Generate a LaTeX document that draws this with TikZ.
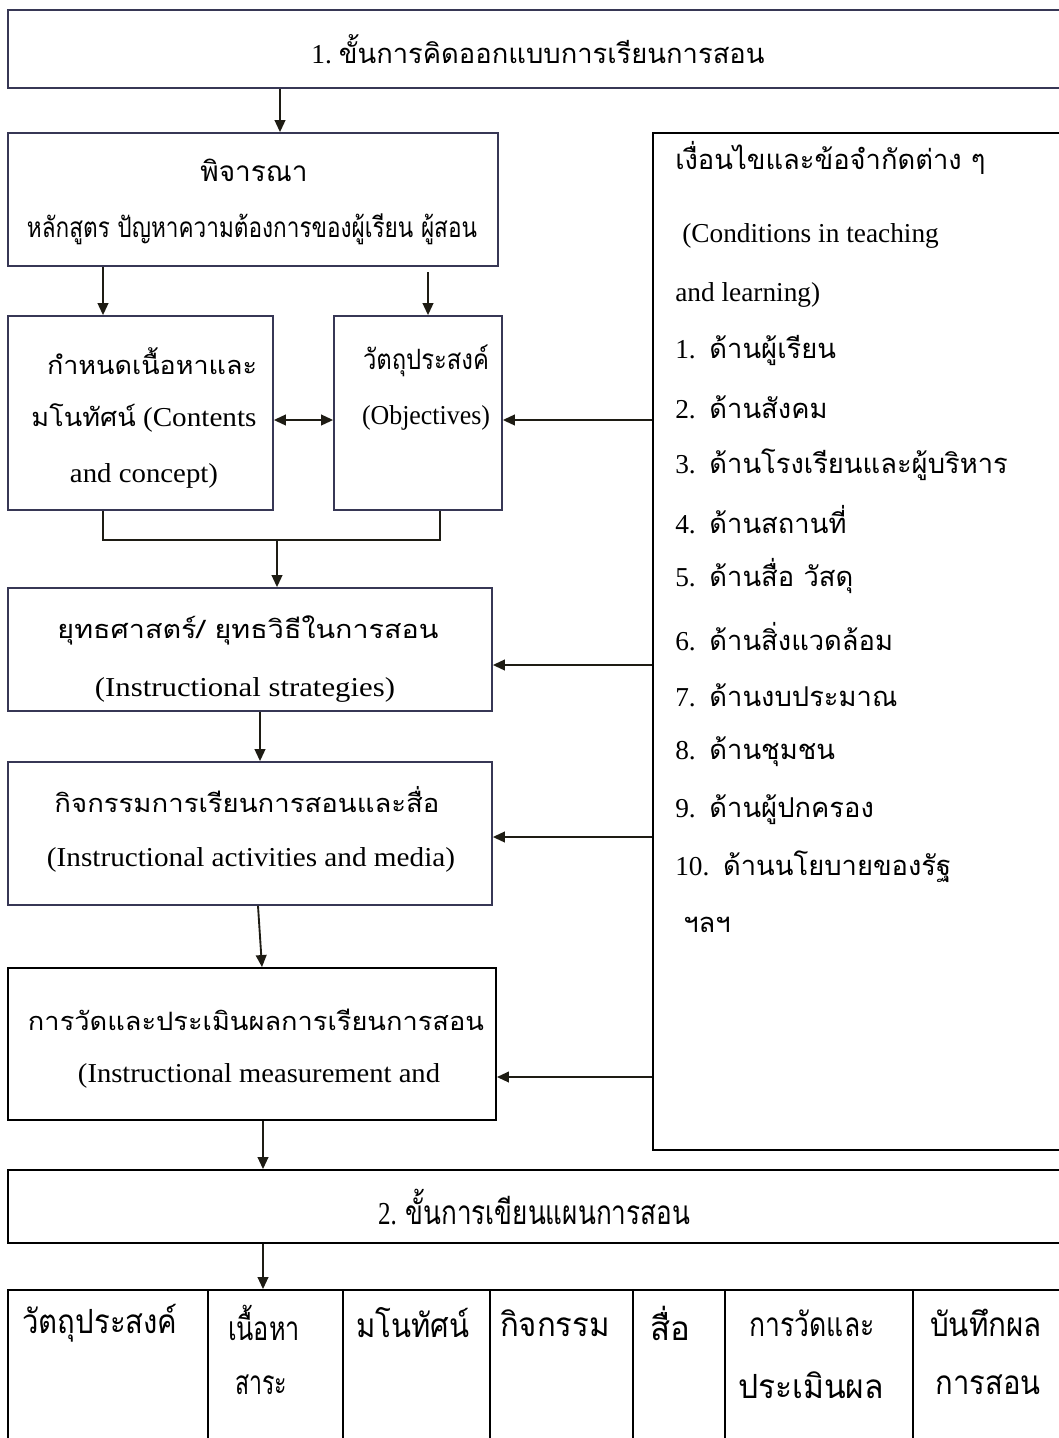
\documentclass[tikz,border=0pt]{standalone}
\usepackage{fontspec}
\usepackage{graphicx}
\setmainfont{Liberation Serif}
\newfontfamily\thf[Script=Thai]{Loma}
\usetikzlibrary{arrows.meta}
\definecolor{boxcol}{RGB}{55,55,85}
\definecolor{arrcol}{RGB}{30,28,20}
\newdimen\pxu \pxu=0.75pt
\newcommand{\fw}[2]{\resizebox{#1\pxu}{\height}{#2}}
\newcommand{\tb}{\fontsize{19pt}{23pt}\selectfont\thf}
\newcommand{\tbb}{\fontsize{21pt}{25pt}\selectfont\thf}
\begin{document}
\begin{tikzpicture}[x=0.75pt,y=-0.75pt,
  box/.style={draw=boxcol,line width=1.3pt,rectangle,inner sep=0pt},
  bbox/.style={draw=black,line width=1.4pt,rectangle,inner sep=0pt},
  arr/.style={draw=arrcol,line width=1.4pt,-{Triangle[length=9pt,width=8pt]}},
  ln/.style={draw=arrcol,line width=1.4pt},
  txt/.style={inner sep=0pt,font=\fontsize{20.5pt}{24pt}\selectfont},
  ctxt/.style={inner sep=0pt,anchor=west,font=\fontsize{20.5pt}{24pt}\selectfont},
  tc/.style={inner sep=0pt,font=\fontsize{25pt}{30pt}\selectfont\thf}]
\useasboundingbox (0,0) rectangle (1059,1438);
% boxes
\node[box,minimum width=1067*0.75pt,minimum height=78*0.75pt] (top) at (541.5,49) {};
\node[box,minimum width=490*0.75pt,minimum height=133*0.75pt] (p) at (253,199.5) {};
\node[box,minimum width=265*0.75pt,minimum height=194*0.75pt] (c) at (140.5,413) {};
\node[box,minimum width=168*0.75pt,minimum height=194*0.75pt] (o) at (418,413) {};
\node[box,minimum width=484*0.75pt,minimum height=123*0.75pt] (s) at (250,649.5) {};
\node[box,minimum width=484*0.75pt,minimum height=143*0.75pt] (a) at (250,833.5) {};
\node[bbox,minimum width=488*0.75pt,minimum height=152*0.75pt] (m) at (252,1044) {};
\node[bbox,minimum width=1067*0.75pt,minimum height=73*0.75pt] (b2) at (541.5,1206.5) {};
\node[bbox,minimum width=422*0.75pt,minimum height=1017*0.75pt] (cond) at (864,641.5) {};
% table cells
\node[bbox,minimum width=200*0.75pt,minimum height=170*0.75pt] (t1) at (108,1375) {};
\node[bbox,minimum width=135*0.75pt,minimum height=170*0.75pt] (t2) at (275.5,1375) {};
\node[bbox,minimum width=147*0.75pt,minimum height=170*0.75pt] (t3) at (416.5,1375) {};
\node[bbox,minimum width=143*0.75pt,minimum height=170*0.75pt] (t4) at (561.5,1375) {};
\node[bbox,minimum width=92*0.75pt,minimum height=170*0.75pt] (t5) at (679,1375) {};
\node[bbox,minimum width=188*0.75pt,minimum height=170*0.75pt] (t6) at (819,1375) {};
\node[bbox,minimum width=162*0.75pt,minimum height=170*0.75pt] (t7) at (994,1375) {};
% texts
\node[txt] (tt) at (538,49) {\fw{453}{1.\ {\thf ขั้นการคิดออกแบบการเรียนการสอน}}};
\node[txt] (p1) at (254,170) {\tbb พิจารณา};
\node[txt] (p2) at (252,229) {\fw{450}{\tbb หลักสูตร ปัญหาความต้องการของผู้เรียน ผู้สอน}};
\node[txt] (c1) at (152,361) {\fw{210}{\tb กำหนดเนื้อหาและ}};
\node[txt] (c2) at (144,418) {\fw{225}{{\tb มโนทัศน์} (Contents}};
\node[txt] (c3) at (144,476) {\fw{148}{and concept)}};
\node[txt] (o1) at (426,361) {\fw{126}{\tbb วัตถุประสงค์}};
\node[txt] (o2) at (426,418) {\fw{128}{(Objectives)}};
\node[txt] (s1) at (248,630) {\fw{381}{\tb ยุทธศาสตร์/ ยุทธวิธีในการสอน}};
\node[txt] (s2) at (245,690) {\fw{300}{(Instructional strategies)}};
\node[txt] (a1) at (247,800) {\fw{385}{\tb กิจกรรมการเรียนการสอนและสื่อ}};
\node[txt] (a2) at (251,860) {\fw{408}{(Instructional activities and media)}};
\node[txt] (m1) at (256,1020) {\fw{456}{\tb การวัดและประเมินผลการเรียนการสอน}};
\node[txt] (m2) at (259,1076) {\fw{362}{(Instructional measurement and}};
\node[tc] (bt) at (534,1207) {\fw{312}{{\rmfamily\fontsize{24pt}{28pt}\selectfont 2.}\ ขั้นการเขียนแผนการสอน}};
% condition lines
\node[ctxt] (k0) at (675,158) {\thf เงื่อนไขและข้อจำกัดต่าง ๆ};
\node[ctxt] (k1) at (682,236) {(Conditions in teaching};
\node[ctxt] (k2) at (675,295) {and learning)};
\node[ctxt] (k3) at (675,350) {1.\ \ {\thf ด้านผู้เรียน}};
\node[ctxt] (k4) at (675,407) {2.\ \ {\thf ด้านสังคม}};
\node[ctxt] (k5) at (675,465) {3.\ \ {\thf ด้านโรงเรียนและผู้บริหาร}};
\node[ctxt] (k6) at (675,520) {4.\ \ {\thf ด้านสถานที่}};
\node[ctxt] (k7) at (675,576) {5.\ \ {\thf ด้านสื่อ วัสดุ}};
\node[ctxt] (k8) at (675,637) {6.\ \ {\thf ด้านสิ่งแวดล้อม}};
\node[ctxt] (k9) at (675,695) {7.\ \ {\thf ด้านงบประมาณ}};
\node[ctxt] (k10) at (675,752) {8.\ \ {\thf ด้านชุมชน}};
\node[ctxt] (k11) at (675,810) {9.\ \ {\thf ด้านผู้ปกครอง}};
\node[ctxt] (k12) at (675,867) {10.\ \ {\thf ด้านนโยบายของรัฐ}};
\node[ctxt] (k13) at (683,925) {\thf ฯลฯ};
% table texts
\node[tc] (r11) at (100,1323) {\fw{155}{วัตถุประสงค์}};
\node[tc] (r21) at (264,1323) {\fw{72}{เนื้อหา}};
\node[tc] (r22) at (261,1385) {\fw{52}{สาระ}};
\node[tc] (r31) at (413,1323) {\fw{113}{มโนทัศน์}};
\node[tc] (r41) at (555,1323) {\fw{110}{กิจกรรม}};
\node[tc] (r51) at (670,1323) {\fw{40}{สื่อ}};
\node[tc] (r61) at (812,1323) {\fw{125}{การวัดและ}};
\node[tc] (r62) at (811,1385) {\fw{146}{ประเมินผล}};
\node[tc] (r71) at (986,1323) {\fw{112}{บันทึกผล}};
\node[tc] (r72) at (988,1385) {\fw{105}{การสอน}};
% x guides
\coordinate (x1) at (280,0);
\coordinate (x2) at (103,0);
\coordinate (x3) at (428,0);
\coordinate (x4) at (440,0);
\coordinate (x5) at (277,0);
\coordinate (x6) at (260,0);
\coordinate (x7) at (258,0);
\coordinate (x8) at (262,0);
\coordinate (x9) at (263,0);
\coordinate (yA) at (0,420);
\coordinate (yB) at (0,665);
\coordinate (yC) at (0,837);
\coordinate (yD) at (0,1077);
\coordinate (jn) at (277,540);
% connectors
\draw[arr] (top.south -| x1) -- (p.north -| x1);
\draw[arr] (p.south -| x2) -- (c.north -| x2);
\draw[arr] ([yshift=-4pt]p.south -| x3) -- (o.north -| x3);
\draw[ln,{Triangle[length=9pt,width=8pt]}-{Triangle[length=9pt,width=8pt]}] (c.east |- yA) -- (o.west |- yA);
\draw[arr] (cond.west |- yA) -- (o.east |- yA);
\draw[ln] (c.south -| x2) -- (jn -| x2) -- (jn -| x4) -- (o.south -| x4);
\draw[arr] (jn) -- (s.north -| x5);
\draw[arr] (s.south -| x6) -- (a.north -| x6);
\draw[arr] (a.south -| x7) -- (m.north -| x8);
\draw[arr] (m.south -| x9) -- (b2.north -| x9);
\draw[arr] (b2.south -| x9) -- (t2.north -| x9);
\draw[arr] (cond.west |- yB) -- (s.east |- yB);
\draw[arr] (cond.west |- yC) -- (a.east |- yC);
\draw[arr] (cond.west |- yD) -- (m.east |- yD);
\end{tikzpicture}
\end{document}
